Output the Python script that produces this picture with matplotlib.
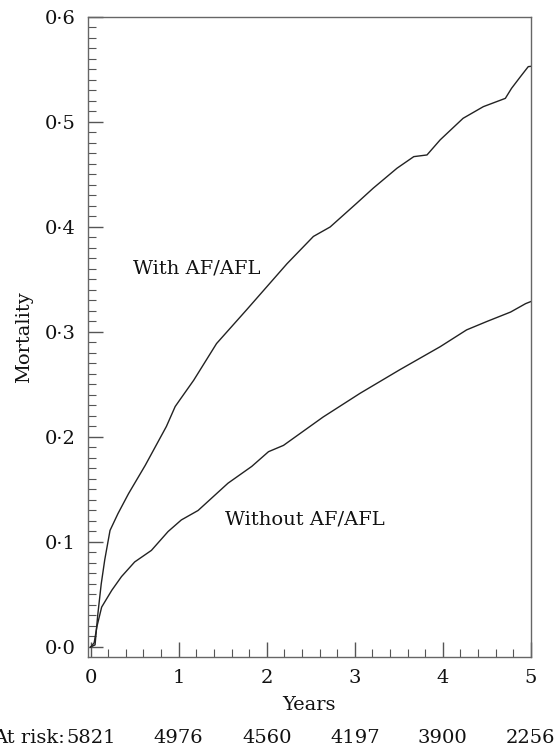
import matplotlib.pyplot as plt
from matplotlib.ticker import MultipleLocator, FuncFormatter

# Kaplan-Meier style mortality curves
with_years = [0.0, 0.05, 0.08, 0.12, 0.16, 0.22, 0.31, 0.43, 0.62, 0.86, 0.96,
              1.01, 1.17, 1.43, 1.77, 2.23, 2.53, 2.72, 3.02, 3.21, 3.48, 3.67,
              3.82, 3.97, 4.23, 4.46, 4.71, 4.78, 4.88, 4.97, 5.0]
with_mort = [0.0, 0.002, 0.03, 0.06, 0.083, 0.111, 0.127, 0.146, 0.173, 0.21, 0.229,
             0.235, 0.254, 0.289, 0.321, 0.365, 0.391, 0.400, 0.4225, 0.437, 0.456, 0.467,
             0.4686, 0.483, 0.5035, 0.5146, 0.5225, 0.532, 0.543, 0.5527, 0.553]

without_years = [0.0, 0.04, 0.07, 0.125, 0.24, 0.35, 0.50, 0.69, 0.88, 1.03, 1.22,
                 1.56, 1.83, 2.02, 2.19, 2.64, 3.06, 3.51, 3.97, 4.27, 4.5, 4.77, 4.94, 5.0]
without_mort = [0.0, 0.004, 0.019, 0.038, 0.054, 0.067, 0.081, 0.092, 0.110, 0.121, 0.130,
                0.156, 0.172, 0.186, 0.192, 0.219, 0.2416, 0.264, 0.286, 0.302, 0.31, 0.319, 0.327, 0.329]

risk_years = [0, 1, 2, 3, 4, 5]
at_risk = [5821, 4976, 4560, 4197, 3900, 2256]

plt.rcParams['font.family'] = ['DejaVu Serif']

fig = plt.figure(figsize=(5.6, 7.48), dpi=100)
ax = fig.add_axes([0.157, 0.1217, 0.791, 0.8556])

line_col = '#222222'
ax.plot(with_years, with_mort, color=line_col, lw=1.0)
ax.plot(without_years, without_mort, color=line_col, lw=1.0)

ax.set_xlim(-0.031, 5.0)
ax.set_ylim(-0.0095, 0.6)

ax.xaxis.set_major_locator(MultipleLocator(1))
ax.xaxis.set_minor_locator(MultipleLocator(0.2))
ax.yaxis.set_major_locator(MultipleLocator(0.1))
ax.yaxis.set_minor_locator(MultipleLocator(0.01))
ax.yaxis.set_major_formatter(FuncFormatter(lambda v, p: f"{v:.1f}".replace('.', '\u00b7')))

ax.tick_params(which='both', direction='in', colors='#555555', labelcolor='#111111',
               labelsize=14, top=False, right=False)
ax.tick_params(which='major', length=11, width=1)
ax.tick_params(which='minor', length=6, width=0.8)
ax.tick_params(axis='x', pad=9)
ax.tick_params(axis='y', pad=9)

for s in ax.spines.values():
    s.set_color('#666666')
    s.set_linewidth(1.0)

ax.set_xlabel('Years', fontsize=14, color='#111111', labelpad=6)
ax.set_ylabel('Mortality', fontsize=14, color='#111111', labelpad=8)

ax.text(0.48, 0.360, 'With AF/AFL', fontsize=14, color='#111111', va='center', ha='left')
ax.text(1.53, 0.121, 'Without AF/AFL', fontsize=14, color='#111111', va='center', ha='left')

# numbers at risk below the axis
trans = ax.get_xaxis_transform()
ax.text(-0.29, -0.126, 'At risk:', transform=trans, fontsize=14, color='#111111',
        ha='right', va='center', clip_on=False)
for yr, n in zip(risk_years, at_risk):
    ax.text(yr, -0.126, str(n), transform=trans, fontsize=14, color='#111111',
            ha='center', va='center', clip_on=False)

fig.savefig('out.png', dpi=100)
